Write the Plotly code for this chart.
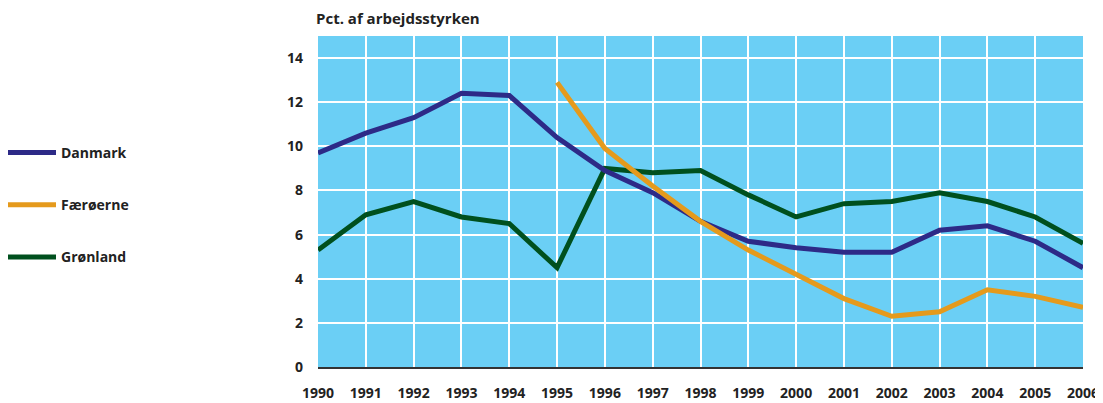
import plotly.graph_objects as go

years = list(range(1990, 2007))
danmark = [9.7, 10.6, 11.3, 12.4, 12.3, 10.4, 8.9, 7.9, 6.6, 5.7, 5.4, 5.2, 5.2, 6.2, 6.4, 5.7, 4.5]
faer_years = list(range(1995, 2007))
faeroerne = [12.9, 9.9, 8.2, 6.6, 5.3, 4.2, 3.1, 2.3, 2.5, 3.5, 3.2, 2.7]
groenland = [5.3, 6.9, 7.5, 6.8, 6.5, 4.5, 9.0, 8.8, 8.9, 7.8, 6.8, 7.4, 7.5, 7.9, 7.5, 6.8, 5.6]
y_ticks = [0, 2, 4, 6, 8, 10, 12, 14]

FONT = "Open Sans"
W, H = 1095, 395
L, R, T, B = 310, 20, 28, 36
fig = go.Figure()
fig.add_trace(go.Scatter(x=years, y=groenland, name="Grønland", mode="lines",
                         line=dict(color="#00501E", width=5), legendgroup="g", legendrank=3))
fig.add_trace(go.Scatter(x=years, y=danmark, name="Danmark", mode="lines",
                         line=dict(color="#2D2A87", width=5), legendgroup="d", legendrank=1))
fig.add_trace(go.Scatter(x=faer_years, y=faeroerne, name="Færøerne", mode="lines",
                         line=dict(color="#E59A1C", width=5), legendgroup="f", legendrank=2))

fig.update_layout(
    width=W, height=H,
    margin=dict(l=L, r=R, t=T, b=B, autoexpand=False),
    plot_bgcolor="#6BCFF5",
    paper_bgcolor="white",
    font=dict(family=FONT, size=14, color="#222222"),
    showlegend=True,
    legend=dict(xref="paper", yref="container", x=(-7 - L) / (W - L - R), y=1 - 129 / H,
                xanchor="left", yanchor="top", itemwidth=50,
                tracegroupgap=31, font=dict(size=14, family=FONT, weight="bold"),
                bgcolor="rgba(0,0,0,0)", traceorder="grouped"),
    xaxis=dict(range=[1990, 2006], dtick=1, tick0=1990, showgrid=True, gridcolor="white",
               gridwidth=2, showline=True, linecolor="#333333", linewidth=2,
               ticks="", ticklabelstandoff=12, zeroline=False, automargin=False,
               tickfont=dict(size=14, family=FONT, weight="bold", color="#222222")),
    yaxis=dict(range=[0, 15], tickvals=y_ticks, showgrid=True, gridcolor="white",
               gridwidth=2, zeroline=False, ticks="", ticklabelstandoff=14, automargin=False,
               tickfont=dict(size=14, family=FONT, weight="bold", color="#222222")),
    annotations=[dict(text="Pct. af arbejdsstyrken", xref="paper", yref="paper",
                      x=0, y=1.0, yshift=6, xanchor="left", yanchor="bottom", showarrow=False,
                      xshift=-4,
                      font=dict(size=15, family=FONT, weight="bold", color="#222222"))],
)
fig.write_html("out.html")
